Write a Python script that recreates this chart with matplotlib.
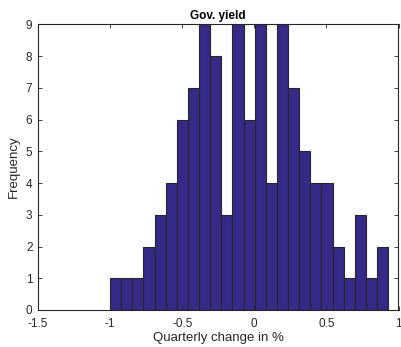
import numpy as np
import matplotlib
matplotlib.use("Agg")
import matplotlib.pyplot as plt

# Histogram bin counts (25 equal bins from -1.0 to ~0.928)
counts = [1, 1, 1, 2, 3, 4, 6, 7, 9, 8, 3, 9, 6, 9, 4, 9, 7, 5, 4, 4, 2, 1, 3, 1, 2]
bin_lo = -1.0
bin_hi = 0.928
xticks = [-1.5, -1, -0.5, 0, 0.5, 1]
xticklabels = ["-1.5", "-1", "-0.5", "0", "0.5", "1"]
yticks = list(range(0, 10))

plt.rcParams['font.family'] = ['Liberation Sans', 'DejaVu Sans']

fig = plt.figure(figsize=(4.02, 3.47), dpi=100)
ax = fig.add_axes([38/402, 1-310/347, (398.5-38)/402, (310-24.3)/347])

edges = np.linspace(bin_lo, bin_hi, len(counts) + 1)
ax.bar(edges[:-1], counts, width=np.diff(edges), align='edge',
       color=(0.2081, 0.1663, 0.5292), edgecolor=(0.15, 0.15, 0.15), linewidth=0.8)

ax.set_xlim(-1.5, 1)
ax.set_ylim(0, 9)
ax.set_xticks(xticks)
ax.set_xticklabels(xticklabels)
ax.set_yticks(yticks)
ax.tick_params(direction='in', top=True, right=True, length=3, width=0.6,
               labelsize=8.5, colors=(0.15, 0.15, 0.15))
ax.tick_params(axis='x', pad=6)
ax.tick_params(axis='y', pad=4)
for s in ax.spines.values():
    s.set_linewidth(0.8)
    s.set_color((0.15, 0.15, 0.15))

ax.set_title("Gov. yield", fontsize=8.5, fontweight='bold', pad=4)
ax.set_xlabel("Quarterly change in %", fontsize=9.5, color=(0.15, 0.15, 0.15), labelpad=1)
ax.set_ylabel("Frequency", fontsize=9.5, color=(0.15, 0.15, 0.15), labelpad=4)

fig.savefig("out.png", dpi=100)
